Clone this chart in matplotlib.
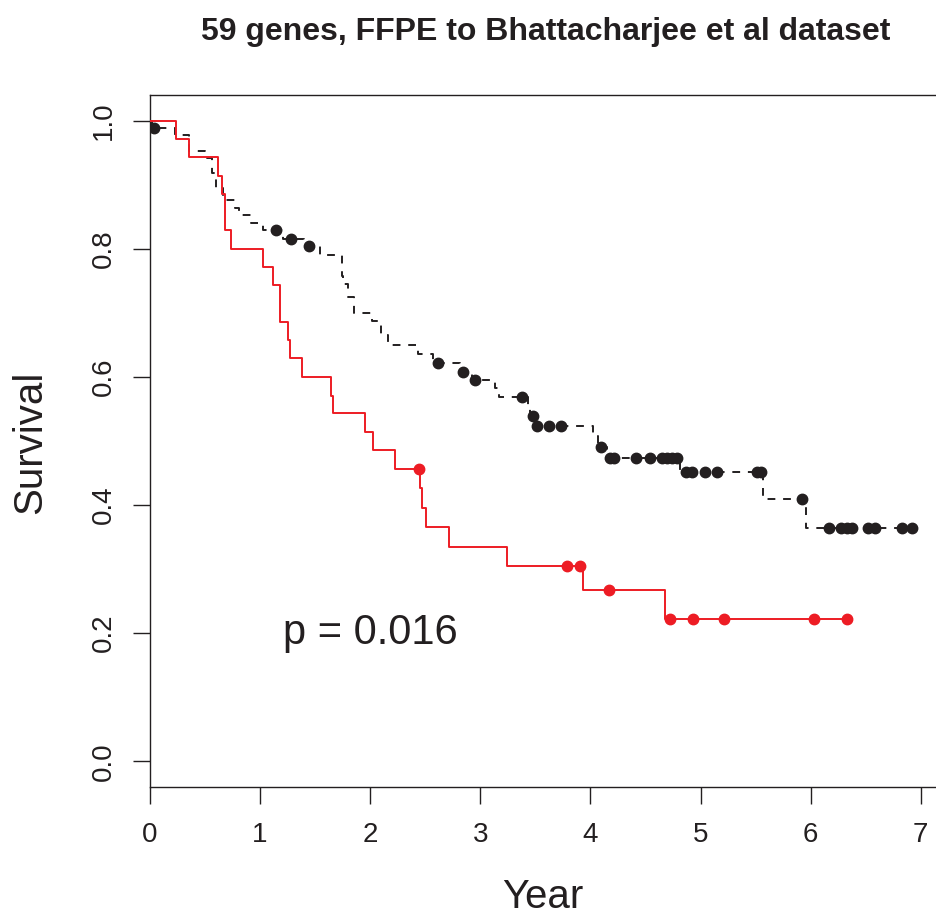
import numpy as np
import matplotlib
matplotlib.use("Agg")
import matplotlib.pyplot as plt

plt.rcParams['font.family'] = ['Liberation Sans', 'DejaVu Sans']

# ---- data ----
title = "59 genes, FFPE to Bhattacharjee et al dataset"
x_label = "Year"
y_label = "Survival"
p_text = "p = 0.016"

x_ticks = [0, 1, 2, 3, 4, 5, 6, 7]
x_tick_labels = ["0", "1", "2", "3", "4", "5", "6", "7"]
y_ticks = [0.0, 0.2, 0.4, 0.6, 0.8, 1.0]
y_tick_labels = ["0.0", "0.2", "0.4", "0.6", "0.8", "1.0"]

# Group 1 (black dashed)
black_event_times = [0.02, 0.23, 0.35, 0.50, 0.56, 0.60, 0.66, 0.77, 0.81, 0.92, 1.03,
                     1.21, 1.40, 1.544, 1.745, 1.755, 1.80, 1.85, 2.02, 2.10, 2.16,
                     2.43, 2.57, 2.82, 2.92, 3.13, 3.17, 3.435, 3.45, 3.50, 4.02,
                     4.07, 4.15, 4.81, 5.563, 5.96]
black_surv = [0.989, 0.978, 0.953, 0.941, 0.918, 0.895, 0.876, 0.864, 0.853, 0.841, 0.830,
              0.816, 0.804, 0.791, 0.757, 0.745, 0.725, 0.700, 0.688, 0.665, 0.650,
              0.636, 0.621, 0.608, 0.595, 0.582, 0.568, 0.554, 0.539, 0.524, 0.508,
              0.491, 0.474, 0.451, 0.410, 0.364]
black_censor_times = [0.036, 1.14, 1.278, 1.444, 2.62, 2.84, 2.95, 3.376, 3.475, 3.517,
                      3.623, 3.729, 4.10, 4.18, 4.21, 4.41, 4.54, 4.65, 4.70, 4.74,
                      4.79, 4.87, 4.92, 5.04, 5.15, 5.51, 5.55, 5.925, 6.166, 6.28,
                      6.33, 6.38, 6.52, 6.585, 6.83, 6.92]

# Group 2 (red solid)
red_event_times = [0.236, 0.35, 0.615, 0.651, 0.685, 0.733, 1.024, 1.119, 1.181, 1.256,
                   1.272, 1.378, 1.644, 1.665, 1.953, 2.028, 2.225, 2.452, 2.47, 2.507,
                   2.72, 3.24, 3.93, 4.678]
red_surv = [0.971, 0.943, 0.914, 0.886, 0.829, 0.800, 0.771, 0.743, 0.686, 0.657,
            0.629, 0.600, 0.571, 0.543, 0.514, 0.486, 0.457, 0.427, 0.396, 0.366,
            0.335, 0.305, 0.267, 0.222]
red_censor_times = [2.443, 3.79, 3.908, 4.17, 4.72, 4.935, 5.216, 6.03, 6.33]

BLACK = "#231f20"
RED = "#ed1c24"


def km_path(event_times, surv, censor_times):
    t = np.concatenate([[0.0], event_times])
    s = np.concatenate([[1.0], surv])
    t_end = max(max(event_times), max(censor_times))
    t = np.append(t, t_end)
    s = np.append(s, s[-1])
    return t, s


def censor_y(event_times, surv, censor_times):
    et = np.asarray(event_times)
    sv = np.concatenate([[1.0], surv])
    idx = np.searchsorted(et, np.asarray(censor_times), side="right")
    return sv[idx]


W, H = 936, 915
fig = plt.figure(figsize=(W / 100, H / 100), dpi=100)
left, right, top, bottom = 150, 942.4, 95, 787
ax = fig.add_axes([left / W, 1 - bottom / H, (right - left) / W, (bottom - top) / H])

tb, sb = km_path(black_event_times, black_surv, black_censor_times)
ax.step(tb, sb, where="post", color=BLACK, lw=1.4, linestyle=(0, (4, 4)), zorder=2)
ax.plot(black_censor_times, censor_y(black_event_times, black_surv, black_censor_times),
        linestyle="none", marker="o", ms=7.5, color=BLACK, mec=BLACK, zorder=3)

tr, sr = km_path(red_event_times, red_surv, red_censor_times)
ax.step(tr, sr, where="post", color=RED, lw=1.4, zorder=4)
ax.plot(red_censor_times, censor_y(red_event_times, red_surv, red_censor_times),
        linestyle="none", marker="o", ms=7.5, color=RED, mec=RED, zorder=5)

ax.set_xlim(0, 6.92 * 1.04)
ax.set_ylim(-0.04, 1.04)

ax.set_xticks(x_ticks)
ax.set_xticklabels(x_tick_labels)
ax.set_yticks(y_ticks)
ax.set_yticklabels(y_tick_labels, rotation=90, va="center")
ax.tick_params(axis="both", direction="out", length=12, width=1.0, color=BLACK,
               labelsize=20, labelcolor=BLACK)
ax.tick_params(axis="x", pad=13)
ax.tick_params(axis="y", pad=12)
for sp in ax.spines.values():
    sp.set_linewidth(1.0)
    sp.set_color(BLACK)

ax.text(2.0, 0.2, p_text, ha="center", va="center", fontsize=30, color=BLACK)

fig.text(546 / W, 1 - 32 / H, title, ha="center", va="center", fontsize=23,
         fontweight="bold", color=BLACK)
fig.text(30 / W, 1 - 442 / H, y_label, rotation=90, ha="center", va="center",
         fontsize=29, color=BLACK)
fig.text(543 / W, 1 - 908 / H, x_label, ha="center", va="baseline", fontsize=29,
         color=BLACK)

fig.savefig("out.png", dpi=100)
